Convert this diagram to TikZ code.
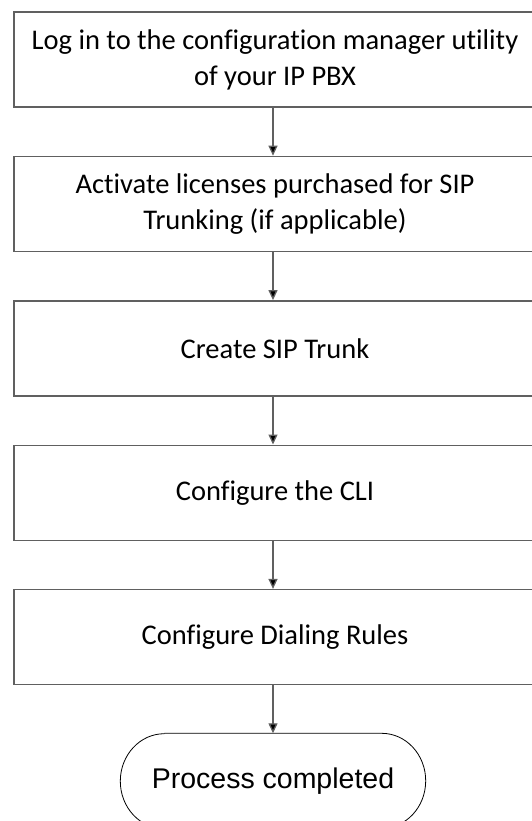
\documentclass[tikz,border=0pt]{standalone}
\usepackage{fontspec}
\setmainfont{Carlito}[Ligatures=NoCommon]
\newfontfamily\arialfont{Liberation Sans}
\usepackage{tikz}
\usetikzlibrary{arrows.meta, positioning}
\definecolor{boxgrey}{RGB}{96, 96, 96}

\tikzset{
    stepbox/.style={draw=boxgrey, line width=1.4pt, minimum width=522pt, minimum height=95pt,
        inner sep=0pt, align=center, font=\fontsize{28.5}{36}\selectfont},
    flowarrow/.style={draw=boxgrey, line width=1.3pt, -{Triangle[length=10pt, width=9pt, fill=black]}}
}

\begin{document}
\begin{tikzpicture}[x=1pt, y=1pt, node distance=48pt]
    \clip (0,0) rectangle (532,-821);
    \useasboundingbox (0,0) rectangle (532,-821);
    % process steps
    \node[stepbox] (login) at (275,-59.5) {Log in to the configuration manager utility\\of your IP PBX};
    \node[stepbox, below=of login] (licenses) {Activate licenses purchased for SIP\\Trunking (if applicable)};
    \node[stepbox, below=of licenses] (trunk) {Create SIP Trunk};
    \node[stepbox, below=of trunk] (cli) {Configure the CLI};
    \node[stepbox, below=of cli] (dialing) {Configure Dialing Rules};
    % end terminal
    \node[minimum width=305pt, minimum height=95pt, inner sep=0pt, below=of dialing, xshift=-2pt,
          font=\arialfont\fontsize{28.5}{32}\selectfont] (done) {Process completed};
    \draw[line width=0.8pt] ([xshift=44pt]done.north west) -- ([xshift=-44pt]done.north east)
        arc[start angle=90, end angle=-90, x radius=44pt, y radius=47.5pt]
        -- ([xshift=44pt]done.south west)
        arc[start angle=270, end angle=90, x radius=44pt, y radius=47.5pt];
    % connectors
    \draw[flowarrow] (login.south -| done.north) -- (licenses.north -| done.north);
    \draw[flowarrow] (licenses.south -| done.north) -- (trunk.north -| done.north);
    \draw[flowarrow] (trunk.south -| done.north) -- (cli.north -| done.north);
    \draw[flowarrow] (cli.south -| done.north) -- (dialing.north -| done.north);
    \draw[flowarrow] (dialing.south -| done.north) -- (done.north);
\end{tikzpicture}
\end{document}
